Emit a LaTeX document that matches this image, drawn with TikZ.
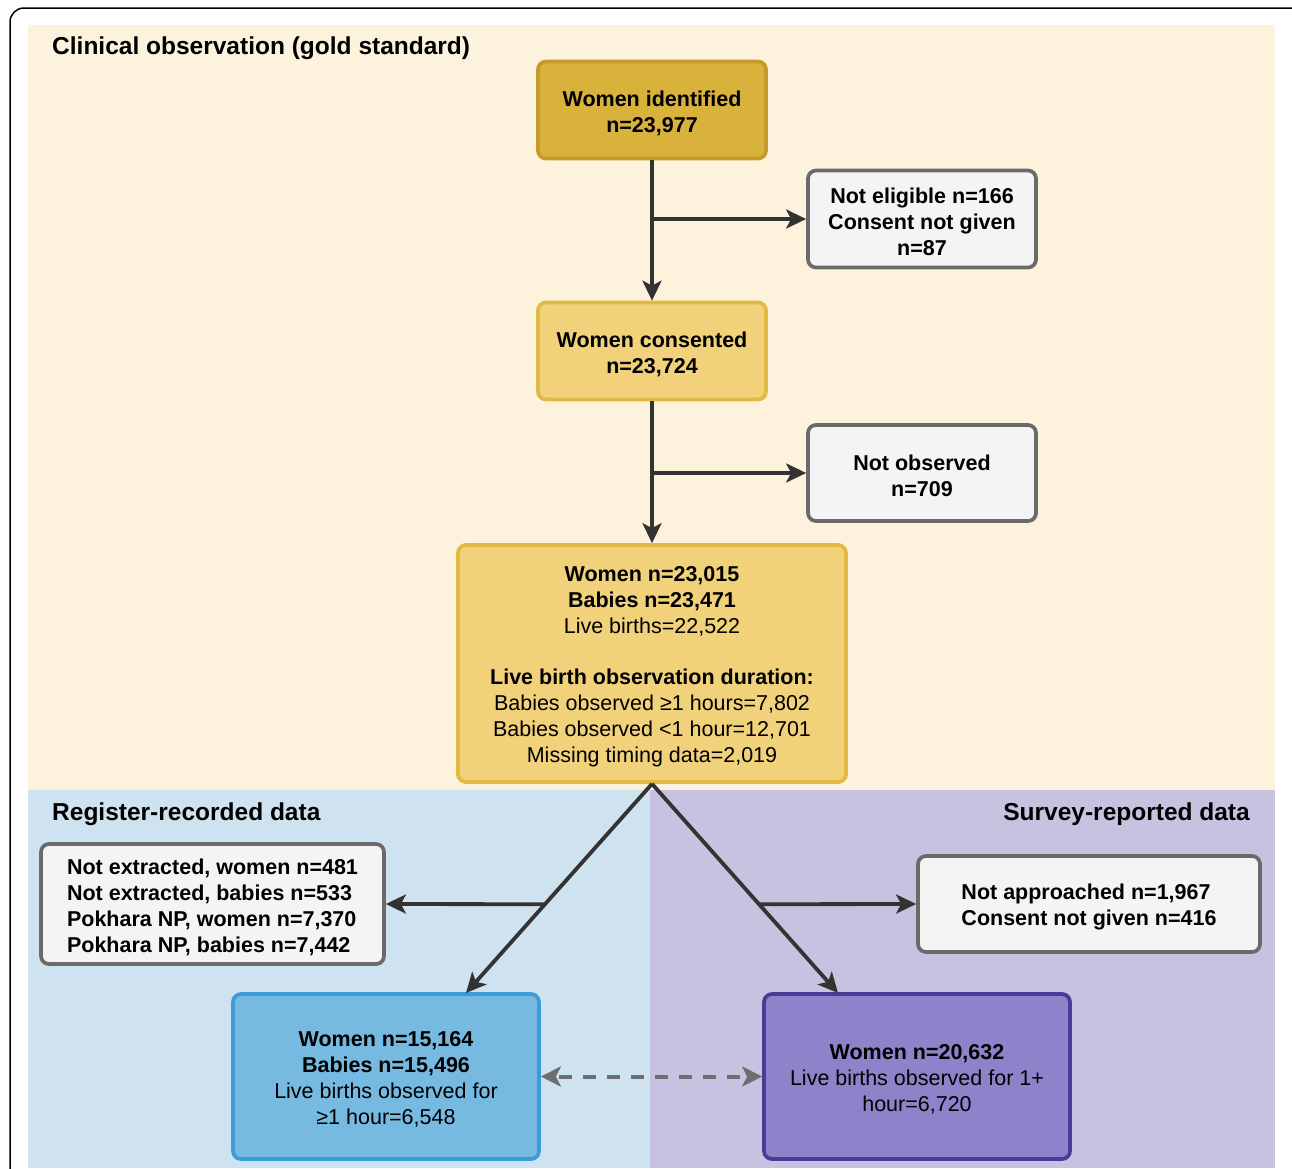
\documentclass[tikz,border=0pt]{standalone}
\usepackage{fontspec}
\setmainfont{Liberation Sans}
\usetikzlibrary{arrows.meta,calc}
\definecolor{cream}{HTML}{FDF3DD}
\definecolor{bluebg}{HTML}{CFE2F0}
\definecolor{purplebg}{HTML}{C8C2E1}
\definecolor{goldfill}{HTML}{D8B23B}
\definecolor{golddraw}{HTML}{C49A2C}
\definecolor{lgoldfill}{HTML}{F1D17A}
\definecolor{lgolddraw}{HTML}{E2B943}
\definecolor{grayfill}{HTML}{F4F4F4}
\definecolor{graydraw}{HTML}{6A6A6A}
\definecolor{bluefill}{HTML}{76BAE2}
\definecolor{bluedraw}{HTML}{3A9DD8}
\definecolor{purplefill}{HTML}{8F82CA}
\definecolor{purpledraw}{HTML}{4A3C96}
\definecolor{arrowc}{HTML}{333333}
\definecolor{dashc}{HTML}{6E6E6E}
\newcommand\firststrut{\rule{0pt}{21.7pt}}
\begin{document}
\begin{tikzpicture}[x=1pt,y=-1pt,
  box/.style={rounded corners=8pt, line width=3.7pt, align=center, inner sep=0pt,
    font=\fontsize{21.5}{26}\selectfont},
  goldbox/.style={box, fill=goldfill, draw=golddraw},
  lgoldbox/.style={box, fill=lgoldfill, draw=lgolddraw},
  graybox/.style={box, fill=grayfill, draw=graydraw},
  bluebox/.style={box, fill=bluefill, draw=bluedraw},
  purplebox/.style={box, fill=purplefill, draw=purpledraw},
  arr/.style={draw=arrowc, line width=3.8pt, -{Stealth[length=20pt,width=19pt,inset=5pt]}},
  dasharr/.style={draw=dashc, line width=4pt, dash pattern=on 13pt off 11pt, dash phase=-4pt,
    {Stealth[length=20pt,width=20pt,inset=5pt]}-{Stealth[length=20pt,width=20pt,inset=5pt]}},
  sectitle/.style={font=\bfseries\fontsize{24.5}{28}\selectfont, inner sep=0pt}]
\useasboundingbox (0,0) rectangle (1292,1168);
\clip (0,0) rectangle (1292,1168);
\fill[white] (0,0) rectangle (1292,1168);
% outer frame
\draw[line width=1.5pt, rounded corners=14pt] (10,8) rectangle (1330,1220);
% regions
\fill[cream] (28,25) rectangle (1275,790);
\fill[bluebg] (28,790) rectangle (650,1168);
\fill[purplebg] (650,790) rectangle (1275,1168);
% titles
\node[sectitle, anchor=west] (t1) at (52,48.5) {Clinical observation (gold standard)};
\node[sectitle, anchor=west] (t2) at (52,814.5) {Register-recorded data};
\node[sectitle, anchor=east] (t3) at (1250,814.5) {Survey-reported data};
% nodes
\node[goldbox, minimum width=228pt, minimum height=97pt] (wi) at (652,110)
  {\firststrut\textbf{Women identified}\\ \textbf{n=23,977}};
\node[graybox, minimum width=228pt, minimum height=97pt] (ne) at (922,219)
  {\firststrut\textbf{Not eligible n=166}\\ \textbf{Consent not given}\\ \textbf{n=87}};
\node[lgoldbox, minimum width=228pt, minimum height=97pt] (wc) at (652,351)
  {\firststrut\textbf{Women consented}\\ \textbf{n=23,724}};
\node[graybox, minimum width=228pt, minimum height=96pt] (no) at (922,473)
  {\firststrut\textbf{Not observed}\\ \textbf{n=709}};
\node[lgoldbox, minimum width=388pt, minimum height=237pt] (ob) at (652,663.5)
  {\firststrut\textbf{Women n=23,015}\\ \textbf{Babies n=23,471}\\ Live births=22,522\\[25pt]
   \textbf{Live birth observation duration:}\\ Babies observed ≥1 hours=7,802\\
   Babies observed <1 hour=12,701\\ Missing timing data=2,019};
\node[graybox, align=left, minimum width=343pt, minimum height=120pt] (nx) at (212.5,904)
  {\firststrut\textbf{Not extracted, women n=481}\\ \textbf{Not extracted, babies n=533}\\
   \textbf{Pokhara NP, women n=7,370}\\ \textbf{Pokhara NP, babies n=7,442}};
\node[graybox, align=left, minimum width=342pt, minimum height=96pt] (na) at (1089,904)
  {\firststrut\textbf{Not approached n=1,967}\\ \textbf{Consent not given n=416}};
\node[bluebox, minimum width=306pt, minimum height=165pt] (rb) at (386,1076.5)
  {\firststrut\textbf{Women n=15,164}\\ \textbf{Babies n=15,496}\\ Live births observed for\\ ≥1 hour=6,548};
\node[purplebox, minimum width=306pt, minimum height=165pt] (sb) at (917,1076.5)
  {\firststrut\textbf{Women n=20,632}\\ Live births observed for 1+\\ hour=6,720};
% connectors
\draw[arr] (wi.south) -- (wc.north);
\draw[arr] ($(wi.south)!(ne.west)!(wc.north)$) -- (ne.west);
\draw[arr] (wc.south) -- (ob.north);
\draw[arr] ($(wc.south)!(no.west)!(ob.north)$) -- (no.west);
\coordinate (apex) at (ob.south);
\coordinate (lt) at (466,993);
\coordinate (rt) at (838,993);
\draw[arr] (apex) -- (lt);
\draw[arr] (apex) -- (rt);
\draw[arr] ($(apex)!0.5755!(lt)$) -- (nx.east);
\draw[arr] ($(apex)!0.5755!(rt)$) -- (na.west);
\draw[dasharr] (rb.east) -- (sb.west);
\end{tikzpicture}
\end{document}
